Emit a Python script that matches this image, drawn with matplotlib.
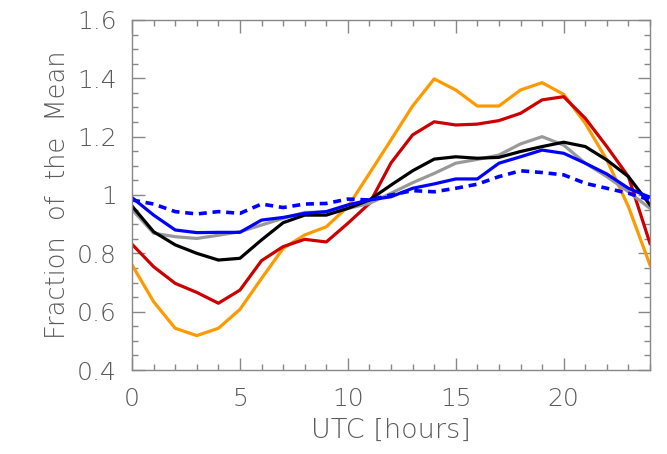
import numpy as np
from matplotlib import pyplot as plt
from matplotlib.ticker import MultipleLocator

hours = list(range(0, 25))

orange = [0.76, 0.634, 0.543, 0.518, 0.543, 0.608, 0.714, 0.817, 0.863, 0.891, 0.96, 1.074, 1.189,
          1.305, 1.398, 1.36, 1.305, 1.305, 1.36, 1.385, 1.345, 1.246, 1.12, 0.96, 0.76]
red = [0.831, 0.754, 0.697, 0.666, 0.629, 0.674, 0.775, 0.823, 0.848, 0.839, 0.903, 0.971, 1.11,
       1.206, 1.251, 1.24, 1.243, 1.255, 1.28, 1.326, 1.337, 1.263, 1.166, 1.063, 0.834]
black = [0.962, 0.874, 0.829, 0.8, 0.777, 0.783, 0.846, 0.905, 0.931, 0.931, 0.954, 0.983, 1.034,
         1.083, 1.123, 1.131, 1.126, 1.129, 1.149, 1.166, 1.181, 1.166, 1.12, 1.063, 0.966]
gray = [0.95, 0.869, 0.857, 0.851, 0.862, 0.874, 0.897, 0.92, 0.94, 0.942, 0.954, 0.971, 1.006,
        1.042, 1.074, 1.109, 1.122, 1.137, 1.175, 1.2, 1.171, 1.109, 1.063, 1.011, 0.954]
blue = [0.991, 0.931, 0.88, 0.871, 0.872, 0.872, 0.914, 0.923, 0.937, 0.943, 0.966, 0.983, 0.994,
        1.023, 1.038, 1.055, 1.055, 1.109, 1.131, 1.154, 1.143, 1.109, 1.072, 1.023, 0.992]
blue_dash = [0.983, 0.969, 0.943, 0.935, 0.943, 0.937, 0.969, 0.957, 0.969, 0.971, 0.986, 0.983, 1.0,
             1.015, 1.011, 1.023, 1.037, 1.063, 1.083, 1.077, 1.069, 1.04, 1.023, 1.006, 0.983]

plt.rcParams['font.family'] = ['DejaVu Sans']
text_color = '#5a5a5a'

fig = plt.figure(figsize=(6.67, 4.54), dpi=100)
ax = fig.add_axes([0.198, 0.185, 0.7765, 0.771])

lw = 2.3
ax.plot(hours, orange, color='#ff9900', linewidth=lw)
ax.plot(hours, red, color='#cc0000', linewidth=lw)
ax.plot(hours, gray, color='#999999', linewidth=lw)
ax.plot(hours, black, color='black', linewidth=lw)
ax.plot(hours, blue, color='#0000ff', linewidth=lw)
ax.plot(hours, blue_dash, color='#0000ff', linewidth=lw + 0.3, linestyle=(0, (2.2, 1.6)))

ax.set_xlim(0, 24)
ax.set_ylim(0.4, 1.6)
ax.xaxis.set_major_locator(MultipleLocator(5))
ax.xaxis.set_minor_locator(MultipleLocator(1))
ax.yaxis.set_minor_locator(MultipleLocator(0.05))
ax.set_yticks([0.4, 0.6, 0.8, 1.0, 1.2, 1.4, 1.6])
ax.set_yticklabels(['0.4', '0.6', '0.8', '1', '1.2', '1.4', '1.6'])

for s in ax.spines.values():
    s.set_color('#888888')
    s.set_linewidth(1)
ax.tick_params(which='both', direction='in', top=True, right=True, color='#888888',
               labelsize=18, labelcolor=text_color)
ax.tick_params(axis='y', which='major', pad=11)
ax.tick_params(axis='x', which='major', pad=12)
ax.tick_params(which='major', length=9, width=1)
ax.tick_params(which='minor', length=4.5, width=1)
for lab in ax.get_xticklabels() + ax.get_yticklabels():
    lab.set_fontweight('light')

ax.set_xlabel('UTC [hours]', fontsize=19.5, color=text_color, labelpad=5, fontweight='light')
ax.set_ylabel('Fraction  of  the  Mean', fontsize=18.5, color=text_color, labelpad=5, fontweight='light')

fig.savefig('out.png', dpi=100)
